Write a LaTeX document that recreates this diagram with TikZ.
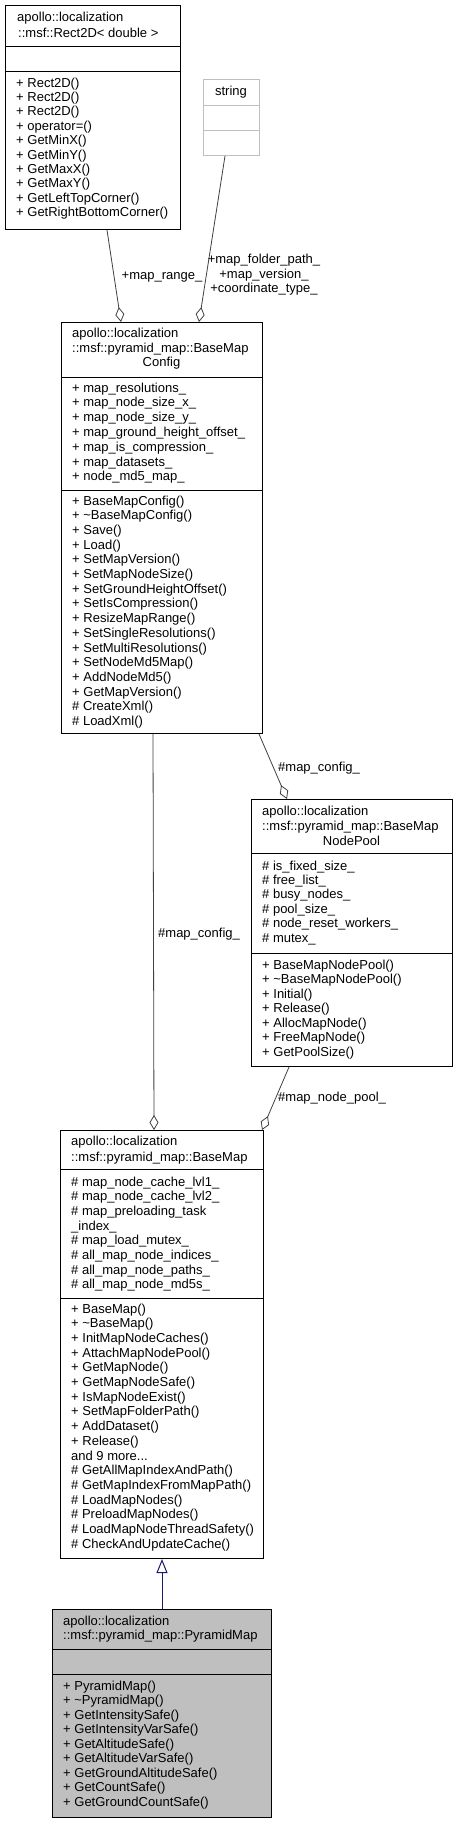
\documentclass[tikz,border=0pt]{standalone}
\usepackage{fontspec}
\setmainfont{Liberation Sans}
\usetikzlibrary{arrows.meta}
\definecolor{edgegray}{HTML}{404040}
\definecolor{inhblue}{HTML}{191970}
\definecolor{pyrgray}{HTML}{BFBFBF}
\tikzset{
  umlbox/.style={draw=black, line width=1pt, inner sep=0pt, anchor=north west, fill=white},
  txt/.style={inner sep=0pt, anchor=base west, font=\fontsize{13}{14.4}\selectfont},
  ctxt/.style={txt, anchor=base},
  sepline/.style={draw=black, line width=1pt},
  usage/.style={draw=edgegray, line width=0.8pt, -{Diamond[fill=white, length=15pt, width=9pt, line width=0.8pt]}},
  inherit/.style={draw=inhblue, line width=1pt, -{Triangle[fill=white, length=14pt, width=11pt, line width=1pt]}},
}
\newcommand{\tdots}{...}
\newcommand{\boxlines}[5]{\foreach \t [count=\i] in {#5} {\node[txt] (#1-\i) at (#2, {#3+(\i-1)*#4}) {\t};}}
\begin{document}
\begin{tikzpicture}[x=1pt, y=-1pt]
\fill[white] (0,0) rectangle (457,1823);
\useasboundingbox (0,0) rectangle (457,1823);

% ---------- Rect2D ----------
\node[umlbox, minimum width=175pt, minimum height=224pt] (rect2d) at (5,5) {};
\draw[sepline] (5,46) -- (180,46);
\draw[sepline] (5,71) -- (180,71);
\node[txt] (rect2d-t1) at (17,21) {apollo::localization};
\node[txt] (rect2d-t2) at (18,37) {::msf::Rect2D< double >};
\boxlines{rect2dm}{16}{87}{14.4}{+ Rect2D(), + Rect2D(), + Rect2D(), + operator=(), + GetMinX(), + GetMinY(), + GetMaxX(), + GetMaxY(), + GetLeftTopCorner(), + GetRightBottomCorner()}

% ---------- string ----------
\node[umlbox, draw=pyrgray, minimum width=56pt, minimum height=76pt] (string) at (203,79) {};
\draw[sepline, draw=pyrgray] (203,105) -- (259,105);
\draw[sepline, draw=pyrgray] (203,130) -- (259,130);
\node[ctxt] (string-t1) at (231,95) {string};

% ---------- BaseMapConfig ----------
\node[umlbox, minimum width=201pt, minimum height=411pt] (bmc) at (61,322) {};
\draw[sepline] (61,377) -- (262,377);
\draw[sepline] (61,490) -- (262,490);
\node[txt] (bmc-t1) at (72,337) {apollo::localization};
\node[txt] (bmc-t2) at (72,352) {::msf::pyramid\_map::BaseMap};
\node[ctxt] (bmc-t3) at (161.5,366.5) {Config};
\boxlines{bmca}{72}{392}{14.8}{+ map\_resolutions\_, + map\_node\_size\_x\_, + map\_node\_size\_y\_, + map\_ground\_height\_offset\_, + map\_is\_compression\_, + map\_datasets\_, + node\_md5\_map\_}
\boxlines{bmcm}{72}{505}{14.7}{+ BaseMapConfig(), + \textasciitilde BaseMapConfig(), + Save(), + Load(), + SetMapVersion(), + SetMapNodeSize(), + SetGroundHeightOffset(), + SetIsCompression(), + ResizeMapRange(), + SetSingleResolutions(), + SetMultiResolutions(), + SetNodeMd5Map(), + AddNodeMd5(), + GetMapVersion(), \# CreateXml(), \# LoadXml()}

% ---------- BaseMapNodePool ----------
\node[umlbox, minimum width=201pt, minimum height=267pt] (pool) at (251,799) {};
\draw[sepline] (251,853) -- (452,853);
\draw[sepline] (251,953) -- (452,953);
\node[txt] (pool-t1) at (262,815) {apollo::localization};
\node[txt] (pool-t2) at (262,830) {::msf::pyramid\_map::BaseMap};
\node[ctxt] (pool-t3) at (351.5,845) {NodePool};
\boxlines{poola}{262}{870}{14.4}{\# is\_fixed\_size\_, \# free\_list\_, \# busy\_nodes\_, \# pool\_size\_, \# node\_reset\_workers\_, \# mutex\_}
\boxlines{poolm}{262}{969}{14.5}{+ BaseMapNodePool(), + \textasciitilde BaseMapNodePool(), + Initial(), + Release(), + AllocMapNode(), + FreeMapNode(), + GetPoolSize()}

% ---------- BaseMap ----------
\node[umlbox, minimum width=203pt, minimum height=428pt] (bmap) at (60,1130) {};
\draw[sepline] (60,1169) -- (263,1169);
\draw[sepline] (60,1298) -- (263,1298);
\node[txt] (bmap-t1) at (71,1145) {apollo::localization};
\node[txt] (bmap-t2) at (71,1161) {::msf::pyramid\_map::BaseMap};
\boxlines{bmapa}{71}{1186}{14.7}{\# map\_node\_cache\_lvl1\_, \# map\_node\_cache\_lvl2\_, \# map\_preloading\_task, \_index\_, \# map\_load\_mutex\_, \# all\_map\_node\_indices\_, \# all\_map\_node\_paths\_, \# all\_map\_node\_md5s\_}
\boxlines{bmapm}{71}{1313}{14.7}{+ BaseMap(), + \textasciitilde BaseMap(), + InitMapNodeCaches(), + AttachMapNodePool(), + GetMapNode(), + GetMapNodeSafe(), + IsMapNodeExist(), + SetMapFolderPath(), + AddDataset(), + Release(), and 9 more\tdots, \# GetAllMapIndexAndPath(), \# GetMapIndexFromMapPath(), \# LoadMapNodes(), \# PreloadMapNodes(), \# LoadMapNodeThreadSafety(), \# CheckAndUpdateCache()}

% ---------- PyramidMap ----------
\node[umlbox, fill=pyrgray, minimum width=219pt, minimum height=208pt] (pyr) at (52,1609) {};
\draw[sepline] (52,1649) -- (271,1649);
\draw[sepline] (52,1674) -- (271,1674);
\node[txt] (pyr-t1) at (63,1625) {apollo::localization};
\node[txt] (pyr-t2) at (63,1639) {::msf::pyramid\_map::PyramidMap};
\boxlines{pyrm}{63}{1690}{14.5}{+ PyramidMap(), + \textasciitilde PyramidMap(), + GetIntensitySafe(), + GetIntensityVarSafe(), + GetAltitudeSafe(), + GetAltitudeVarSafe(), + GetGroundAltitudeSafe(), + GetCountSafe(), + GetGroundCountSafe()}

% ---------- connectors ----------
\draw[usage] ([xshift=102pt]rect2d.south west) -- ([xshift=60pt]bmc.north west);
\node[txt, anchor=base] (lbl-range) at (162,279) {+map\_range\_};

\draw[usage] ([xshift=22pt]string.south west) -- ([xshift=138pt]bmc.north west);
\node[txt, anchor=center, align=center] (lbl-string) at (264,275) {+map\_folder\_path\_\\+map\_version\_\\+coordinate\_type\_};

\draw[usage] ([xshift=198pt]bmc.south west) -- ([xshift=36pt]pool.north west);
\node[txt] (lbl-cfg1) at (278,771) {\#map\_config\_};

\draw[usage] ([xshift=92pt]bmc.south west) -- ([xshift=94pt]bmap.north west);
\node[txt] (lbl-cfg2) at (158,937) {\#map\_config\_};

\draw[usage] ([xshift=38pt]pool.south west) -- ([xshift=202pt]bmap.north west);
\node[txt] (lbl-pool) at (278,1101) {\#map\_node\_pool\_};

\draw[inherit] ([xshift=110pt]pyr.north west) -- ([xshift=102pt]bmap.south west);
\end{tikzpicture}
\end{document}
